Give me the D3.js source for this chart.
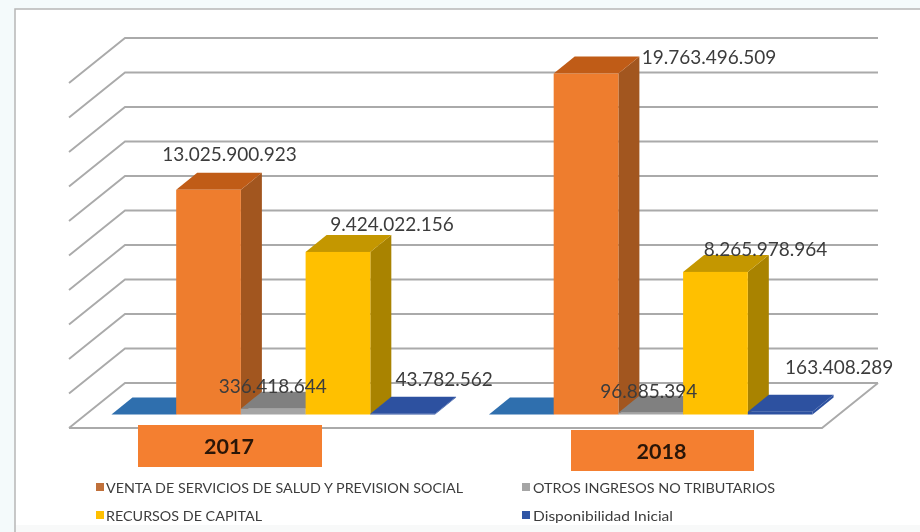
<!DOCTYPE html>
<html><head><meta charset="utf-8">
<style>html,body{margin:0;padding:0;background:#f4fafb;overflow:hidden}svg{display:block;filter:blur(.6px)}</style>
<script src="https://cdn.jsdelivr.net/npm/d3@7/dist/d3.min.js"></script>
</head><body><svg id="c" width="920" height="532"></svg>
<script>
const categories = ["2017","2018"];
const seriesNames = ["(sin nombre)","VENTA DE SERVICIOS DE SALUD Y PREVISION SOCIAL","OTROS INGRESOS NO TRIBUTARIOS","RECURSOS DE CAPITAL","Disponibilidad Inicial"];
const blank2 = [0,0];
const venta = [13025900923,19763496509];
const otros = [336418644,96885394];
const recursos = [9424022156,8265978964];
const disponibilidad = [43782562,163408289];
const axisTicks = [0,2e9,4e9,6e9,8e9,10e9,12e9,14e9,16e9,18e9,20e9];

const seriesValues = [blank2,venta,otros,recursos,disponibilidad];
const faces = [
 {front:"#3a7dbd",side:"#2f69a3",top:"#2f6fae"},
 {front:"#ee7d2e",side:"#a2561f",top:"#c05c17"},
 {front:"#a5a5a5",side:"#7c7c7c",top:"#808080"},
 {front:"#ffc000",side:"#a98300",top:"#c49700"},
 {front:"#2d51a0",side:"#2d51a0",top:"#2d51a0"}
];
const labelOffsets = [[null,[21,-35],[-0.5,-22],[54,-27],[41.5,-34]],[null,[123,-16],[-2,-21],[50,-22],[59,-44]]];
const dep = {x:21,y:-17};
const wall = {x:125,r:878,dx:-56,dy:45};

const svg = d3.select("#c");
const x0 = d3.scaleBand().domain(categories).range([84.5,839.5]).paddingInner(54/378).paddingOuter(27/378);
const x1 = d3.scaleBand().domain(d3.range(seriesNames.length)).range([0,x0.bandwidth()]);
const yFront = d3.scaleLinear().domain([0,20e9]).range([414.5,69.5]);
const yWall = d3.scaleLinear().domain([0,20e9]).range([383,38]);

// frame: top and left rules only, white panel, pale strip at the bottom
svg.append("rect").attr("x",15).attr("y",9).attr("width",905).attr("height",516).attr("fill","#fff");
svg.append("rect").attr("x",15).attr("y",525).attr("width",905).attr("height",7).attr("fill","#f8f9f9");
svg.append("path").attr("d","M15,532V9H920").attr("fill","none").attr("stroke","#b6b6b6").attr("stroke-width",1.5);

// gridlines
const grid = svg.append("g").attr("fill","none").attr("stroke","#aaaaaa").attr("stroke-width",1.9);
grid.selectAll("path").data(axisTicks).join("path")
 .attr("d",t=>{const y=yWall(t);return `M${wall.x+wall.dx},${y+wall.dy}L${wall.x},${y}L${wall.r},${y}`;});
grid.append("path").attr("d",()=>{const y=yWall(0);return `M${wall.x+wall.dx},${y+wall.dy}L${wall.r+wall.dx},${y+wall.dy}L${wall.r},${y}`;});

// bars
const poly = pts=>"M"+pts.map(p=>p.join(",")).join("L")+"Z";
const bars = svg.append("g");
categories.forEach((c,ci)=>{
 seriesValues.forEach((vals,si)=>{
  const v=vals[ci], xa=x0(c)+x1(si), xb=xa+x1.bandwidth(), yt=yFront(v), yb=yFront(0), f=faces[si];
  const g=bars.append("g");
  g.append("path").attr("fill",f.side).attr("d",poly([[xb,yb],[xb,yt],[xb+dep.x,yt+dep.y],[xb+dep.x,yb+dep.y]]));
  g.append("path").attr("fill",f.top).attr("d",poly([[xa,yt],[xb,yt],[xb+dep.x,yt+dep.y],[xa+dep.x,yt+dep.y]]));
  g.append("rect").attr("x",xa).attr("y",yt).attr("width",xb-xa).attr("height",yb-yt).attr("fill",f.front);
 });
});

// year boxes
const boxes=[{x:138,y:425,w:184,h:42},{x:571,y:430,w:183,h:41}];
categories.forEach((c,i)=>{
 const b=boxes[i];
 svg.append("rect").attr("x",b.x).attr("y",b.y).attr("width",b.w).attr("height",b.h).attr("fill","#f47f30");
 svg.append("text").attr("x",b.x+b.w/2-1).attr("y",b.y+b.h/2+8).attr("text-anchor","middle")
  .attr("font-family","Lato").attr("font-weight",700).attr("font-size",21.5).attr("fill","#2a1608").text(c);
});

// data labels
const fmt = v=>d3.format(",")(v).replace(/,/g,".");
categories.forEach((c,ci)=>{
 seriesValues.forEach((vals,si)=>{
  const o=labelOffsets[ci][si]; if(!o) return;
  svg.append("text").attr("x",x0(c)+x1(si)+x1.bandwidth()/2+o[0]).attr("y",yFront(vals[ci])+o[1]+6.5)
   .attr("text-anchor","middle").attr("font-family","Lato").attr("font-size",19).attr("fill","#3c3c3c").text(fmt(vals[ci]));
 });
});

// legend
const legendPos=[null,{x:96,y:487,w:357},{x:522,y:487,w:242},{x:96,y:515,w:156},{x:522,y:515,w:140}];
const legendCol=[null,"#c0703a","#a5a5a5","#ffc000","#2f55a5"];
seriesNames.forEach((n,i)=>{
 const p=legendPos[i]; if(!p) return;
 svg.append("rect").attr("x",p.x).attr("y",p.y-4).attr("width",8).attr("height",8).attr("fill",legendCol[i]);
 svg.append("text").attr("x",p.x+(i%2?10:11)).attr("y",p.y+5.5).attr("font-family","Lato").attr("font-size",14).attr("fill","#3c3c3c")
  .attr("textLength",p.w).attr("lengthAdjust","spacingAndGlyphs").text(n);
});
</script></body></html>
